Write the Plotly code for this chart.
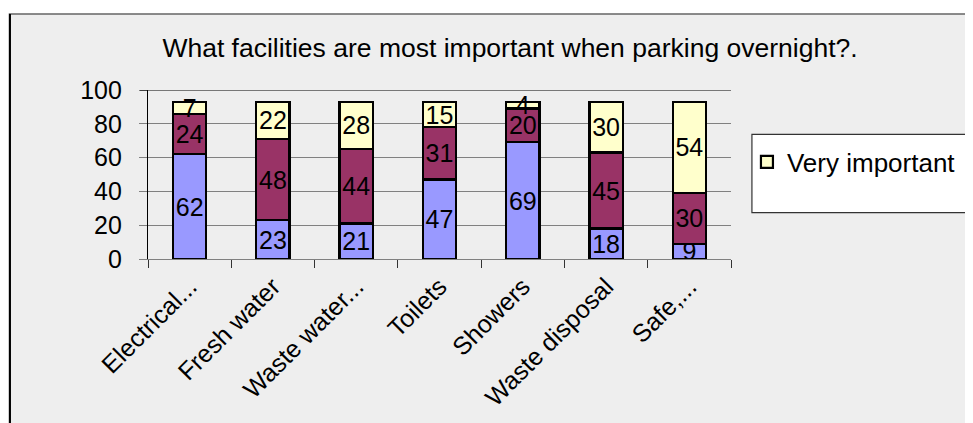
import plotly.graph_objects as go

categories = ["Electrical...", "Fresh water", "Waste water...", "Toilets", "Showers", "Waste disposal", "Safe,..."]
series_bottom = [62, 23, 21, 47, 69, 18, 9]
series_middle = [24, 48, 44, 31, 20, 45, 30]
very_important = [7, 22, 28, 15, 4, 30, 54]
y_ticks = [0, 20, 40, 60, 80, 100]

OFF = 8  # page body margin
W, H = 973 - OFF, 423 - OFF
# plot area in reference pixels
L, R, T, B = 148, 733, 90, 261
pw, ph = R - L, B - T


def px(x):
    return (x - L) / pw


def py(y):
    return (B - y) / ph


FONT = "Liberation Sans, Arial, sans-serif"

fig = go.Figure()
common = dict(textposition="inside", insidetextanchor="middle", constraintext="none",
              textangle=0, textfont=dict(size=25, color="black", family=FONT),
              marker_line=dict(color="black", width=2.2), width=0.4)
fig.add_bar(x=categories, y=series_bottom, text=series_bottom, marker_color="#9999FF",
            name="Not important", showlegend=False, **common)
fig.add_bar(x=categories, y=series_middle, text=series_middle, marker_color="#993366",
            name="Important", showlegend=False, **common)
fig.add_bar(x=categories, y=very_important, text=very_important, marker_color="#FFFFCC",
            name="Very important", showlegend=True, **common)

shapes = [
    # outer chart border
    dict(type="rect", xref="paper", yref="paper", x0=px(9), x1=px(1000), y0=py(450), y1=py(13),
         line=dict(color="#666666", width=1.5), fillcolor="#EEEEEE", layer="below"),
    dict(type="line", xref="paper", yref="paper", x0=px(9.5), x1=px(9.5), y0=py(450), y1=py(13),
         line=dict(color="black", width=2), layer="below"),
    # legend box
    dict(type="rect", xref="paper", yref="paper", x0=px(754), x1=px(1000), y0=py(214), y1=py(135),
         line=dict(color="#333333", width=1.2), fillcolor="white", layer="below"),
    # top gridline
    dict(type="line", xref="paper", yref="y", x0=px(140), x1=1, y0=100, y1=100,
         line=dict(color="black", width=1.2)),
]

fig.update_layout(
    width=W, height=H,
    margin=dict(l=L - OFF, r=W - (R - OFF), t=T - OFF, b=H - (B - OFF), pad=0),
    paper_bgcolor="white", plot_bgcolor="rgba(0,0,0,0)",
    barmode="stack", bargap=0.6,
    font=dict(family=FONT, size=25, color="black"),
    title=dict(text="What facilities are most important when parking overnight?.",
               x=((163 + 857) / 2 - OFF) / W, xanchor="center", y=1 - (48 - OFF) / H, yanchor="middle",
               font=dict(size=26.5, family=FONT, color="black")),
    showlegend=True,
    legend=dict(x=px(749), xanchor="left", y=py(139), yanchor="top", bgcolor="rgba(0,0,0,0)",
                font=dict(size=26, family=FONT, color="black"), borderwidth=0),
    shapes=shapes,
)
fig.update_yaxes(range=[0, 100], tickvals=y_ticks, showgrid=True, gridcolor="#808080", gridwidth=1.2,
                 showline=True, linecolor="black", linewidth=1.2, ticks="outside", ticklen=8,
                 tickcolor="#808080", tickwidth=1.2, zeroline=False, ticklabelstandoff=12,
                 tickfont=dict(size=25, family=FONT, color="black"))
fig.update_xaxes(showline=True, linecolor="#808080", linewidth=1.2, ticks="outside", ticklen=8,
                 tickson="boundaries", tickcolor="#333333", tickwidth=1.2, tickangle=-45,
                 ticklabelstandoff=2,
                 tickfont=dict(size=25, family=FONT, color="black"), showgrid=False)

fig.write_html("out.html")
